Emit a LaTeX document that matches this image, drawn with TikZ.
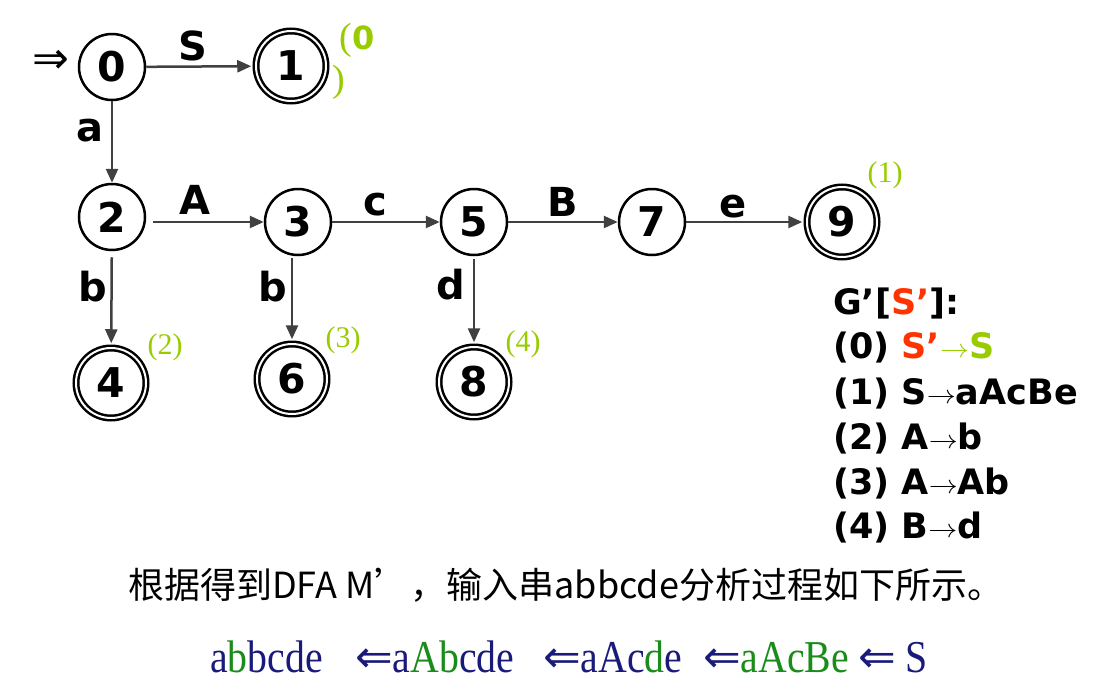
\documentclass[tikz,border=0pt]{standalone}
\usepackage{fontspec}
\usepackage{graphicx}
\setmainfont{DejaVu Sans}
\newfontfamily\serifx{Liberation Serif}
\newfontfamily\arrowfont{DejaVu Sans}
\newfontfamily\cjk{Noto Sans CJK SC}
\usetikzlibrary{arrows.meta}
\definecolor{arrowgray}{HTML}{404040}
\definecolor{lgreen}{HTML}{99CC00}
\definecolor{navy}{HTML}{1A1A7A}
\definecolor{dgreen}{HTML}{1A8C1A}
\definecolor{gred}{HTML}{FF3300}
\tikzset{
  stnode/.style={circle, draw, line width=2.5pt, minimum size=66pt, inner sep=0pt,
    font=\fontsize{41}{41}\selectfont\bfseries},
  accnode/.style={stnode, double, double distance=2pt, minimum size=70pt},
  trans/.style={draw=arrowgray, line width=2.5pt, -{Triangle[length=14pt,width=12pt]}},
  elabel/.style={inner sep=0pt, font=\fontsize{40}{40}\selectfont\bfseries},
  rlabel/.style={inner sep=0pt, text=lgreen, font=\fontsize{30}{30}\selectfont\serifx},
  gline/.style={anchor=base west, inner sep=0pt, font=\fontsize{35}{35}\selectfont\bfseries},
  derive/.style={anchor=base west, inner sep=0pt, text=navy, font=\fontsize{39}{39}\selectfont\serifx}
}
\newcommand{\thinarrow}{\raisebox{0.5pt}{\scalebox{2.9}[2.6]{\normalsize$\rightarrow$}}}
\newcommand{\bigLarrow}{{\arrowfont\fontsize{45}{45}\selectfont ⇐}}
\newcommand{\dtext}[1]{\scalebox{1.02}[1.17]{#1}}
\begin{document}
\begin{tikzpicture}[x=1pt,y=-1pt]
\useasboundingbox (0,0) rectangle (1099,693);
% states
\node[stnode]  (0) at (112,67)  {0};
\node[accnode] (1) at (291,66)  {1};
\node[stnode]  (2) at (112,217) {2};
\node[stnode]  (3) at (298,222) {3};
\node[stnode]  (5) at (474,222) {5};
\node[stnode]  (7) at (652,222) {7};
\node[accnode] (9) at (842,222) {9};
\node[accnode] (4) at (111,383) {4};
\node[accnode] (6) at (292,379) {6};
\node[accnode] (8) at (474,382) {8};
% start marker
\node[inner sep=0pt, font=\fontsize{44}{44}\selectfont\arrowfont] (start) at (51,62) {⇒};
% transitions
\draw[trans, shorten >=3.5pt] (0) -- (1);
\draw[trans] (0) -- (2);
\draw[trans, shorten <=7pt] (2.east |- 3.west) -- (3.west);
\draw[trans] (3) -- (5);
\draw[trans] (5) -- (7);
\draw[trans, shorten >=3.5pt] (7) -- (9);
\draw[trans, shorten <=6pt, shorten >=3.5pt] (2) -- (4);
\draw[trans, shorten <=2pt, shorten >=3.5pt] (3.south -| 6.north) -- (6.north);
\draw[trans, shorten <=3pt, shorten >=3.5pt] (5) -- (8);
% edge labels
\node[elabel] (lS) at (193,46) {S};
\node[elabel] (la) at (90,131) {a};
\node[elabel] (lA) at (195,200) {A};
\node[elabel] (lc) at (375,205) {c};
\node[elabel] (lB) at (563,202) {B};
\node[elabel] (le) at (733,207) {e};
\node[elabel] (lb1) at (93,287) {b};
\node[elabel] (lb2) at (273,287) {b};
\node[elabel] (ld) at (451,285) {d};
% reduction labels
\node[inner sep=0pt, text=lgreen, font=\fontsize{32}{32}\selectfont] (r0a) at (357,40)
  {{\serifx\fontsize{38}{38}\selectfont (}\bfseries 0};
\node[inner sep=0pt, text=lgreen, font=\fontsize{38}{38}\selectfont\serifx] (r0b) at (339,82) {)};
\node[rlabel] (r1) at (885,175) {(1)};
\node[rlabel] (r2) at (165,347) {(2)};
\node[rlabel] (r3) at (343,340) {(3)};
\node[rlabel] (r4) at (523,344) {(4)};
% grammar
\node[gline] (g0) at (833,314) {G’[\textcolor{gred}{S’}]:};
\node[gline] (g1) at (833,358) {(0) \textcolor{gred}{S’}\textcolor{lgreen}{\thinarrow S}};
\node[gline] (g2) at (833,404) {(1) S\thinarrow aAcBe};
\node[gline] (g3) at (833,449) {(2) A\thinarrow b};
\node[gline] (g4) at (833,494) {(3) A\thinarrow Ab};
\node[gline] (g5) at (833,538) {(4) B\thinarrow d};
% sentence
\node[anchor=base west, inner sep=0pt, font=\fontsize{36}{36}\selectfont\cjk] (sent) at (128,598)
  {根据得到DFA M’，输入串abbcde分析过程如下所示。};
% derivation
\node[derive] (d1) at (210,672) {\dtext{a\textcolor{dgreen}{b}bcde}};
\node[derive] (d2) at (355,672) {\bigLarrow\dtext{a\textcolor{dgreen}{Ab}cde}};
\node[derive] (d3) at (543,672) {\bigLarrow\dtext{aAc\textcolor{dgreen}{d}e}};
\node[derive] (d4) at (703,672) {\bigLarrow\dtext{\textcolor{dgreen}{aAcBe}}};
\node[derive] (d5) at (858,672) {\bigLarrow\ \dtext{S}};
\end{tikzpicture}
\end{document}
